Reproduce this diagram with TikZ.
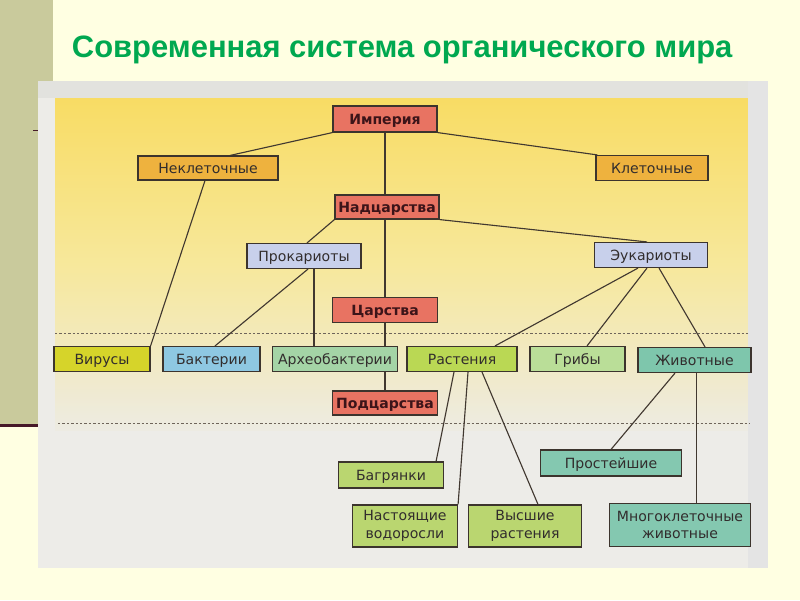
\documentclass[tikz,border=0pt]{standalone}
\usepackage{fontspec}
\setmainfont{DejaVu Sans}
\newfontfamily\titlefont{Liberation Sans}
\usetikzlibrary{calc}
\pgfdeclarelayer{back}
\pgfdeclarelayer{edges}
\pgfsetlayers{back,edges,main}
\definecolor{slidebg}{RGB}{255,255,226}
\definecolor{stripc}{RGB}{201,202,156}
\definecolor{maroonc}{RGB}{70,25,40}
\definecolor{scangrey}{RGB}{237,236,232}
\definecolor{scantop}{RGB}{226,226,222}
\definecolor{scanright}{RGB}{228,228,228}
\definecolor{yeltop}{RGB}{248,220,100}
\definecolor{yelmid}{RGB}{247,232,155}
\definecolor{yelbot}{RGB}{237,235,226}
\definecolor{titlegreen}{RGB}{0,168,80}
\definecolor{boxline}{RGB}{60,52,45}
\definecolor{edgec}{RGB}{65,56,48}
\definecolor{textc}{RGB}{50,45,45}
\definecolor{darktext}{RGB}{60,20,25}
\definecolor{salmon}{RGB}{232,115,98}
\definecolor{orangec}{RGB}{238,178,62}
\definecolor{lavender}{RGB}{200,208,235}
\definecolor{virc}{RGB}{214,212,42}
\definecolor{baktc}{RGB}{142,200,226}
\definecolor{archc}{RGB}{164,212,166}
\definecolor{rastc}{RGB}{186,216,84}
\definecolor{gribc}{RGB}{186,222,152}
\definecolor{zhivc}{RGB}{126,198,172}
\definecolor{plantc}{RGB}{186,214,112}
\definecolor{animc}{RGB}{132,200,176}
\definecolor{dashc}{RGB}{110,100,90}
\begin{document}
\begin{tikzpicture}[x=0.025cm,y=-0.025cm,
  box/.style={draw=boxline, line width=0.8pt, inner sep=0pt, align=center,
    text=textc, font=\fontsize{10}{12.5}\selectfont, minimum height=0.625cm},
  oneline/.style={text height=8pt, text depth=0pt},
  rankbox/.style={box, oneline, fill=salmon, text=darktext, font=\bfseries\fontsize{10}{12.5}\selectfont},
  conn/.style={draw=edgec, line width=0.8pt},
  levelline/.style={draw=dashc, line width=0.6pt, dash pattern=on 0.06cm off 0.05cm}]
\useasboundingbox (0,0) rectangle (800,600);
\begin{pgfonlayer}{back}
  \fill[slidebg] (0,0) rectangle (800,600);
  \fill[stripc] (0,0) rectangle (53,425);
  \fill[maroonc] (0,424) rectangle (38,427);
  \fill[maroonc] (33,129.5) rectangle (38,131);
  \fill[scangrey] (38,81) rectangle (768,568);
  \fill[scantop] (38,81) rectangle (768,98);
  \shade[top color=yeltop, bottom color=yelbot, middle color=yelmid] (55,98) rectangle (748,430);
  \fill[scanright] (748,81) rectangle (768,568);
  \draw[levelline] (55,333) -- (748,333);
  \draw[levelline] (58,423) -- (750,423);
\end{pgfonlayer}

\node[anchor=base west, font=\titlefont\bfseries\fontsize{22}{26}\selectfont, text=titlegreen] (title) at (67,57) {Современная система органического мира};

\node[rankbox, minimum width=2.6cm, minimum height=0.65cm] (imp) at (385,119) {Империя};
\node[box, oneline, fill=orangec, minimum width=3.5cm, minimum height=0.6cm] (nekl) at (208,168) {Неклеточные};
\node[box, oneline, fill=orangec, minimum width=2.8cm] (klet) at (652,168) {Клеточные};
\node[rankbox, minimum width=2.6cm, minimum height=0.6cm] (nadc) at (387,207) {Надцарства};
\node[box, oneline, fill=lavender, minimum width=2.85cm] (prok) at (304,256) {Прокариоты};
\node[box, oneline, fill=lavender, minimum width=2.825cm] (euk) at (651,255) {Эукариоты};
\node[rankbox, minimum width=2.625cm] (tsar) at (385,310) {Царства};
\node[box, oneline, fill=virc, minimum width=2.4cm] (vir) at (102,359) {Вирусы};
\node[box, oneline, fill=baktc, minimum width=2.425cm] (bakt) at (211.5,359) {Бактерии};
\node[box, oneline, fill=archc, minimum width=3.125cm] (arch) at (335,359) {Археобактерии};
\node[box, oneline, fill=rastc, minimum width=2.75cm] (rast) at (462,359) {Растения};
\node[box, oneline, fill=gribc, minimum width=2.375cm] (grib) at (577.5,359) {Грибы};
\node[box, oneline, fill=zhivc, minimum width=2.825cm] (zhiv) at (694.5,360) {Животные};
\node[rankbox, minimum width=2.625cm, minimum height=0.6cm] (podc) at (385,403) {Подцарства};
\node[box, oneline, fill=plantc, minimum width=2.625cm, minimum height=0.65cm] (bagr) at (391,475) {Багрянки};
\node[box, fill=plantc, minimum width=2.625cm, minimum height=1.05cm] (nast) at (405,526) {Настоящие\\водоросли};
\node[box, fill=plantc, minimum width=2.825cm, minimum height=1.05cm] (vyssh) at (525,526) {Высшие\\растения};
\node[box, oneline, fill=animc, minimum width=3.525cm, minimum height=0.65cm] (prost) at (611,463) {Простейшие};
\node[box, fill=animc, minimum width=3.525cm, minimum height=1.075cm] (mnog) at (680,525) {Многоклеточные\\животные};

\begin{pgfonlayer}{edges}
  \draw[conn] (imp.south west) -- ([xshift=0.55cm]nekl.north);
  \draw[conn] (imp.south east) -- ([xshift=0.05cm]klet.north west);
  \draw[conn] (imp.south) -- (imp.south |- nadc.north);
  \draw[conn] ([xshift=-0.075cm]nekl.south) -- (vir.north east);
  \draw[conn] (nadc.south west) -- ([xshift=0.075cm]prok.north);
  \draw[conn] (nadc.south east) -- ([xshift=-0.1cm]euk.north);
  \draw[conn] (tsar.north |- nadc.south) -- (tsar.north);
  \draw[conn] ([xshift=0.1cm]prok.south) -- ([xshift=0.0875cm]bakt.north);
  \draw[conn] ([xshift=0.25cm]prok.south) -- ([xshift=0.25cm]prok.south |- arch.north);
  \draw[conn] (tsar.south) -- (podc.north);
  \draw[conn] ([xshift=-0.325cm]euk.south) -- ([xshift=0.825cm]rast.north);
  \draw[conn] ([xshift=-0.1cm]euk.south) -- ([xshift=0.2375cm]grib.north);
  \draw[conn] ([xshift=0.2cm]euk.south) -- ([xshift=0.2625cm]zhiv.north);
  \draw[conn] ([xshift=-0.2cm]rast.south) -- ([xshift=-0.2cm]bagr.north east);
  \draw[conn] ([xshift=0.15cm]rast.south) -- (nast.north east);
  \draw[conn] ([xshift=0.5cm]rast.south) -- ([xshift=0.325cm]vyssh.north);
  \draw[conn] ([xshift=-0.4875cm]zhiv.south) -- (prost.north);
  \draw[conn] ([xshift=0.05cm]zhiv.south) -- ([xshift=0.05cm]zhiv.south |- mnog.north);
\end{pgfonlayer}
\end{tikzpicture}
\end{document}
